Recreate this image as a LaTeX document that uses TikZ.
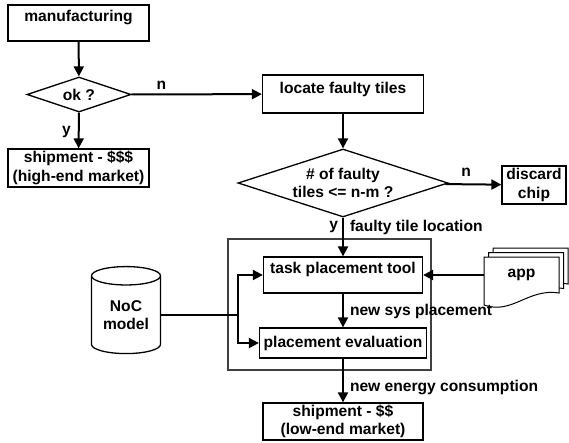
\documentclass[tikz,border=0pt]{standalone}
\usepackage{fontspec}
\setmainfont{Liberation Sans}
\usetikzlibrary{shapes.geometric, arrows.meta, positioning}

\begin{document}
\begin{tikzpicture}[
  x=1pt, y=-1pt,
  font=\fontsize{15.6}{18.5}\selectfont\bfseries,
  box/.style={rectangle, draw=black, line width=1.3pt, inner sep=0pt, align=center},
  decision/.style={diamond, aspect=3, draw=black, line width=1.3pt, inner sep=0pt, align=center},
  arrow/.style={-{Triangle[length=10pt, width=10pt]}, line width=2pt},
  link/.style={line width=2pt},
  lbl/.style={inner sep=0pt}
]
\useasboundingbox (0,0) rectangle (569,442);

% ---- upper flow: test and sort ----
\node[box, minimum width=141pt, text height=16pt, text depth=20pt] (manuf) at (78.5,23) {manufacturing};
\node[decision, minimum width=104pt, minimum height=35pt] (ok) at (79,94.5) {ok ?};
\node[box, minimum width=141pt, minimum height=38pt] (ship_hi) at (78.5,168) {shipment - \$\$\$\\(high-end market)};

\node[box, minimum width=161pt, text height=18pt, text depth=20pt] (locate) at (343,94) {locate faulty tiles};
\node[decision, minimum width=210pt, minimum height=68pt] (faulty) at (343,183) {\# of faulty\\tiles <= n-m ?};
\node[box, minimum width=64pt, minimum height=38pt] (discard) at (534,185) {discard\\chip};

% ---- placement loop ----
\node[draw=black!75, line width=1.3pt, minimum width=203pt, minimum height=131pt, inner sep=0pt] (tool_frame) at (329.5,304.5) {};
\node[box, minimum width=159pt, text height=16pt, text depth=20pt] (task) at (343,275) {task placement tool};
\node[box, minimum width=167pt, text height=19pt, text depth=11pt] (eval) at (343,343) {placement evaluation};
\node[box, minimum width=160pt, minimum height=37pt] (ship_lo) at (343,421.5) {shipment - \$\$\\(low-end market)};

\node[cylinder, shape border rotate=90, aspect=0.4, draw=black, line width=1.3pt, minimum width=69pt, minimum height=87pt, inner sep=0pt, align=center] (noc) at (126,315) {NoC\\model};
\coordinate (noc_split) at (238,315);

% app: stack of documents
\foreach \d in {9,4.5,0}
  \filldraw[fill=white, draw=black, line width=1pt, shift={(\d,-\d)}]
    (484,305) -- (484,257) -- (559,257) -- (559,293) .. controls (528,288) and (512,315) .. (484,305) -- cycle;
\node[lbl, minimum width=75pt, minimum height=36pt] (app) at (521.5,275) {app};

% ---- connectors ----
\draw[arrow] (manuf) -- (ok);
\draw[arrow] (ok) -- node[lbl, above, pos=0.23, yshift=4pt] {n} (locate);
\draw[arrow] (ok) -- node[lbl, left, pos=0.54, xshift=-7pt] {y} (ship_hi);
\draw[arrow] (locate) -- (faulty);
\draw[arrow] (faulty) -- node[lbl, above, pos=0.37, yshift=7pt] {n} (discard);
\draw[arrow] (faulty) -- node[lbl, left, pos=0.25, xshift=-4pt] {y}
  node[lbl, right, pos=0.25, xshift=6pt] {faulty tile location} (task);
\draw[arrow] (task) -- node[lbl, right, pos=0.54, xshift=6pt] {new sys placement} (eval);
\draw[arrow] (eval) -- node[lbl, right, pos=0.67, xshift=6pt] {new energy consumption} (ship_lo);

\draw[link] (noc) -- (noc_split);
\draw[arrow] (noc_split) |- (task.west);
\draw[arrow] (noc_split) |- (eval.west);
\draw[arrow] (app) -- (task);

\end{tikzpicture}
\end{document}
